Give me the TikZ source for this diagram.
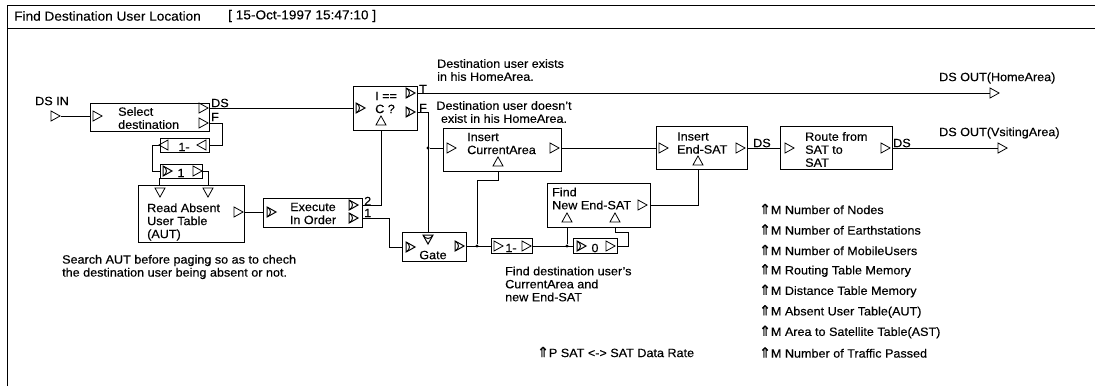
\documentclass[tikz,border=0pt]{standalone}
\usepackage{fontspec}
\setmainfont{Liberation Sans}[FakeStretch=1.05, FakeBold=0.3]
\newfontfamily\symfont{DejaVu Sans}[FakeBold=1]
\usepackage{tikz}
\usetikzlibrary{shapes.geometric, calc}
\newcommand{\parup}{{\symfont\fontsize{14}{13}\selectfont ⇑}}

\begin{document}
\begin{tikzpicture}[x=1pt, y=-1pt,
    every node/.style={inner sep=0pt, font=\fontsize{12}{13}\selectfont},
    box/.style={draw, line width=0.9pt, rectangle},
    txt/.style={align=left, anchor=west},
    tri/.style={draw, line width=0.8pt, isosceles triangle, isosceles triangle stretches, minimum width=10pt, minimum height=9pt},
    tril/.style={tri, shape border rotate=180},
    triu/.style={tri, shape border rotate=90},
    trid/.style={tri, shape border rotate=270},
    gtri/.style={tri, line width=1pt, path picture={\draw[line width=1pt] (path picture bounding box.north west) .. controls +(4.5,2) and +(4.5,-2) .. (path picture bounding box.south west);}},
    gtrid/.style={trid, line width=1pt, path picture={\draw[line width=1pt] (path picture bounding box.north west) .. controls +(2,4.5) and +(-2,4.5) .. (path picture bounding box.north east);}},
    wire/.style={line width=0.9pt},
    dot/.style={circle, fill, minimum size=3.2pt}
]
    \useasboundingbox (0,0) rectangle (1095,386);

    % Frame and title
    \draw[line width=1pt] (7,386) -- (7,5) -- (1095,5);
    \draw[line width=1pt] (7,28) -- (1095,28);
    \node[txt, font=\fontsize{13}{14}\selectfont] (title) at (14,16) {Find Destination User Location};
    \node[txt, font=\fontsize{13}{14}\selectfont] (stamp) at (228,16) {[ 15-Oct-1997 15:47:10 ]};

    % Input
    \node[txt] (dsin-t) at (35,101) {DS IN};
    \node[tri] (dsin) at (54,116) {};

    % Select destination
    \node[box, minimum width=119pt, minimum height=28pt] (sel) at (149.5,117) {};
    \node[txt] (sel-t) at (118,118) {Select\\destination};
    \node[tri] (sel-in) at (96,116) {};
    \node[tri] (sel-ds) at (202,108) {};
    \node[tri] (sel-f) at (202,123) {};
    \node[txt] (sel-dsl) at (211,103) {DS};
    \node[txt] (sel-fl) at (211,117) {F};

    % Counters under Select destination
    \node[box, minimum width=49pt, minimum height=14pt] (neg1) at (184.5,145) {};
    \node[tril] (neg1-a) at (165,145) {};
    \node[tril] (neg1-b) at (203,145) {};
    \node (neg1-t) at (184,147) {1-};
    \node[box, minimum width=42pt, minimum height=14pt] (one) at (181,171) {};
    \node[gtri] (one-in) at (166,171) {};
    \node[tri] (one-out) at (196,171) {};
    \node (one-t) at (181,173) {1};

    % Read Absent User Table
    \node[box, minimum width=106pt, minimum height=57pt] (rd) at (191,213.5) {};
    \node[txt] (rd-t) at (147,222) {Read Absent\\User Table\\(AUT)};
    \node[trid] (rd-v1) at (160,191) {};
    \node[trid] (rd-v2) at (208,191) {};
    \node[tri] (rd-out) at (237,212) {};

    % Execute In Order
    \node[box, minimum width=99pt, minimum height=29pt] (exe) at (312.5,212.5) {};
    \node[align=center] (exe-t) at (313,213.5) {Execute\\In Order};
    \node[gtri] (exe-in) at (270,212) {};
    \node[gtri] (exe-o2) at (352,205) {};
    \node[gtri] (exe-o1) at (352,218) {};
    \node[txt] (exe-2) at (364,201) {2};
    \node[txt] (exe-1) at (364,213) {1};

    % I == C ?
    \node[box, minimum width=64pt, minimum height=44pt] (icq) at (385,108) {};
    \node[txt] (icq-t) at (375,102.5) {I ==\\C ?};
    \node[gtri] (icq-in) at (359,108) {};
    \node[gtri] (icq-t1) at (409,93) {};
    \node[gtri] (icq-f1) at (409,112) {};
    \node[triu] (icq-c) at (381,122) {};
    \node[txt] (icq-tl) at (419,89) {T};
    \node[txt] (icq-fl) at (419,108) {F};
    \node[txt] (home-note) at (437,70) {Destination user exists\\in his HomeArea.};
    \node[align=center] (away-note) at (504,112) {Destination user doesn't\\exist in his HomeArea.};

    % Gate
    \node[box, minimum width=64pt, minimum height=29pt] (gate) at (434,246.5) {};
    \node (gate-t) at (433,255) {Gate};
    \node[gtri] (gate-in) at (409,247) {};
    \node[gtrid] (gate-top) at (428,238) {};
    \node[gtri] (gate-out) at (458,246) {};

    % Insert CurrentArea
    \node[box, minimum width=118pt, minimum height=43pt] (ica) at (502,149.5) {};
    \node[txt] (ica-t) at (467,143.5) {Insert\\CurrentArea};
    \node[tri] (ica-in) at (450,148) {};
    \node[tri] (ica-out) at (553,148) {};
    \node[triu] (ica-c) at (498,163) {};

    % Insert End-SAT
    \node[box, minimum width=91pt, minimum height=43pt] (ies) at (701.5,147.5) {};
    \node[txt] (ies-t) at (677,143) {Insert\\End-SAT};
    \node[tri] (ies-in) at (662,148) {};
    \node[tri] (ies-out) at (739,148) {};
    \node[triu] (ies-c) at (698,162) {};
    \node[txt] (ies-dsl) at (753,143) {DS};

    % Route from SAT to SAT
    \node[box, minimum width=112pt, minimum height=43pt] (rte) at (836,147.5) {};
    \node[txt] (rte-t) at (805,149.5) {Route from\\SAT to\\SAT};
    \node[tri] (rte-in) at (788,148) {};
    \node[tri] (rte-out) at (884,148) {};
    \node[txt] (rte-dsl) at (893,143) {DS};

    % Find New End-SAT
    \node[box, minimum width=103pt, minimum height=44pt] (fne) at (598.5,205) {};
    \node[txt] (fne-t) at (552,198.5) {Find\\New End-SAT};
    \node[tri] (fne-out) at (641,205) {};
    \node[triu] (fne-c1) at (567,219) {};
    \node[triu] (fne-c2) at (615,219) {};

    % Counters under Find New End-SAT
    \node[box, minimum width=41pt, minimum height=15pt] (dec) at (511.5,245.5) {};
    \node[tri] (dec-in) at (497,246) {};
    \node[tri] (dec-out) at (525,246) {};
    \node (dec-t) at (511,248) {1-};
    \node[box, minimum width=44pt, minimum height=15pt] (zero) at (595,245.5) {};
    \node[gtri] (zero-in) at (580,246) {};
    \node[tri] (zero-out) at (609,246) {};
    \node (zero-t) at (595,248) {0};
    \node[txt] (find-note) at (505,284) {Find destination user's\\CurrentArea and\\new End-SAT};

    % Outputs
    \node[tri] (homeout) at (993,93) {};
    \node[txt] (homeout-t) at (939,78) {DS OUT(HomeArea)};
    \node[tri] (visout) at (1001,148) {};
    \node[txt] (visout-t) at (939,133) {DS OUT(VsitingArea)};

    % Notes and parameters
    \node[txt] (aut-note) at (62,267) {Search AUT before paging so as to chech\\the destination user being absent or not.};
    \node[txt] (p-rate) at (537,352) {\parup P SAT <-> SAT Data Rate};
    \node[txt] (m1) at (759,209) {\parup M Number of Nodes};
    \node[txt] (m2) at (759,229.5) {\parup M Number of Earthstations};
    \node[txt] (m3) at (759,250) {\parup M Number of MobileUsers};
    \node[txt] (m4) at (759,270.5) {\parup M Routing Table Memory};
    \node[txt] (m5) at (759,291) {\parup M Distance Table Memory};
    \node[txt] (m6) at (759,311.5) {\parup M Absent User Table(AUT)};
    \node[txt] (m7) at (759,332) {\parup M Area to Satellite Table(AST)};
    \node[txt] (m8) at (759,352.5) {\parup M Number of Traffic Passed};

    % Junctions
    \node[dot] (j1) at (428,148) {};
    \node[dot] (j2) at (477,246) {};
    \node[dot] (j3) at (567,246) {};

    % Connections
    \draw[wire] (dsin.apex) -- (dsin.apex -| sel.west);
    \draw[wire] (sel.east |- sel-ds) -- (icq.west |- icq-in);
    \draw[wire] (sel.east |- sel-f) -- ++(13,0) |- (neg1.east);
    \draw[wire] (neg1.west) -- ++(-7,0) |- (one.west);
    \draw[wire] (one.east) -| (rd-v2 |- rd.north);
    \draw[wire] (one.south west) -- (one.south west |- rd.north);
    \draw[wire] (rd.east |- rd-out) -- (exe.west |- rd-out);
    \draw[wire] (exe.east |- exe-o2) -| (icq-c |- icq.south);
    \draw[wire] (exe.east |- exe-o1) -- ++(27,0) |- (gate.west |- gate-in);
    \draw[wire] (icq.east |- icq-t1) -- (homeout.west);
    \draw[wire] (icq.east |- icq-f1) -| (gate-top |- gate.north);
    \draw[wire] (j1) -- (ica.west |- j1);
    \draw[wire] (ica.east |- ica-out) -- (ies.west |- ica-out);
    \draw[wire] (ies.east |- ies-out) -- (rte.west |- ies-out);
    \draw[wire] (rte.east |- rte-out) -- (visout.west);
    \draw[wire] (gate.east |- gate-out) -- (dec.west |- gate-out);
    \draw[wire] (j2) -- ++(0,-66) -| (ica-c |- ica.south);
    \draw[wire] (dec.east |- dec-out) -- (zero.west |- dec-out);
    \draw[wire] (j3) -- (fne-c1 |- fne.south);
    \draw[wire] (zero.east |- zero-out) -- ++(11,0) -- ++(0,-14) -| (fne-c2 |- fne.south);
    \draw[wire] (fne.east |- fne-out) -| (ies-c |- ies.south);
\end{tikzpicture}
\end{document}
